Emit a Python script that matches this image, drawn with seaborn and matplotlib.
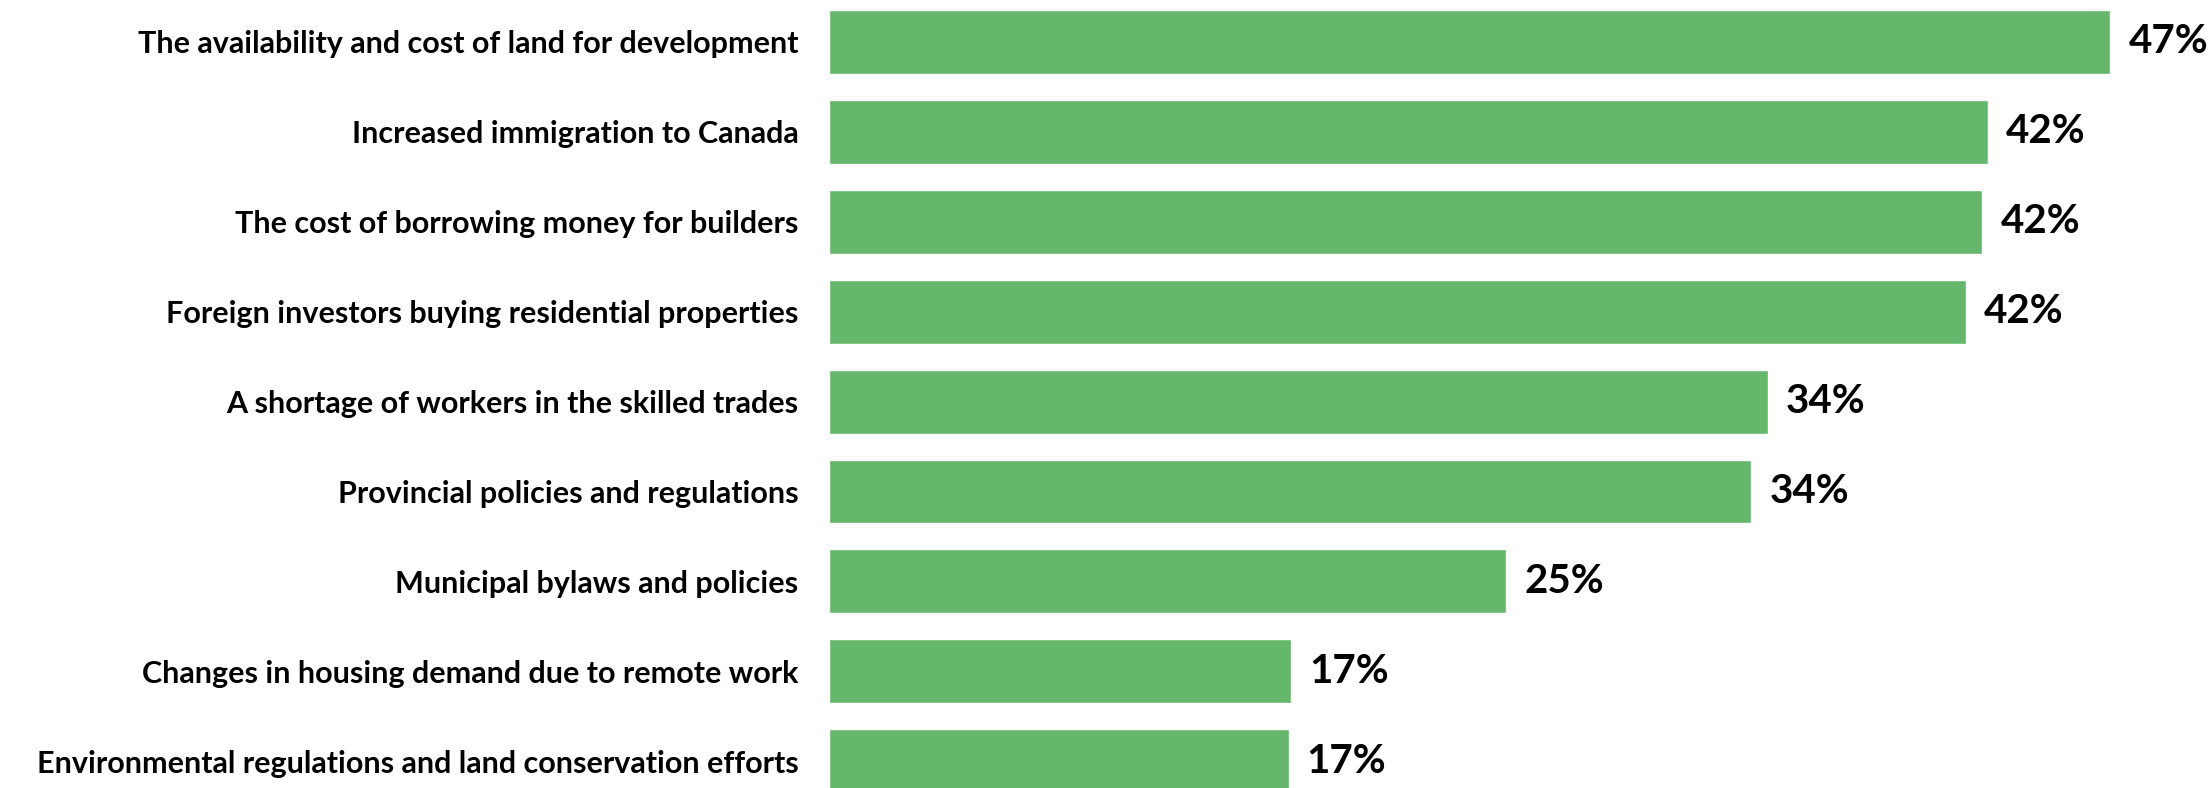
import matplotlib
matplotlib.use("Agg")
import matplotlib.pyplot as plt
import seaborn as sns
import pandas as pd

# Survey results (share of respondents, %)
factors = [
    "The availability and cost of land for development",
    "Increased immigration to Canada",
    "The cost of borrowing money for builders",
    "Foreign investors buying residential properties",
    "A shortage of workers in the skilled trades",
    "Provincial policies and regulations",
    "Municipal bylaws and policies",
    "Changes in housing demand due to remote work",
    "Environmental regulations and land conservation efforts",
]
shares = [47.1, 42.6, 42.4, 41.8, 34.5, 33.9, 24.9, 17.0, 16.9]
share_labels = ["47%", "42%", "42%", "42%", "34%", "34%", "25%", "17%", "17%"]

df = pd.DataFrame({"factor": factors, "share": shares})

# Graphical parameters
bar_color = "#65B76B"
sns.set_style("white")
plt.rcParams["font.family"] = ["Lato", "DejaVu Sans"]

fig = plt.figure(figsize=(22.11, 7.88), dpi=100)
ax = fig.add_axes([829 / 2211, 0, 1 - 829 / 2211, 1])

sns.barplot(data=df, x="share", y="factor", orient="h",
            color=bar_color, saturation=1, width=0.71, ax=ax)

ax.bar_label(ax.containers[0], labels=share_labels, padding=13,
             fontsize=29, fontweight="bold", color="black")

ax.set_xlim(0, 50.8)
ax.set_ylim(8.298, -0.467)
ax.set_xlabel("")
ax.set_ylabel("")
ax.set_xticks([])
ax.tick_params(axis="y", length=0, pad=22)
for lbl in ax.get_yticklabels():
    lbl.set_fontsize(22)
    lbl.set_fontweight("bold")
    lbl.set_color("black")
sns.despine(ax=ax, left=True, bottom=True)

fig.savefig("out.png", dpi=100)
